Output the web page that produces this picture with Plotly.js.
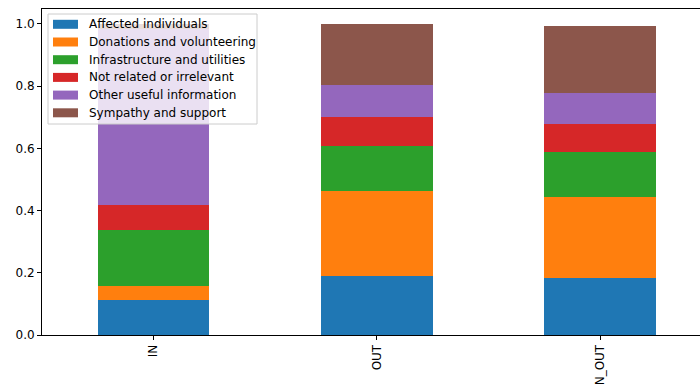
<!DOCTYPE html>
<html>
<head>
<meta charset="utf-8">
<script src="https://cdn.plot.ly/plotly-3.0.1.min.js"></script>
<style>html,body{margin:0;padding:0;background:#fff;}#chart{width:700px;height:385px;}</style>
</head>
<body>
<div id="chart"></div>
<script>
const categories = ["IN", "OUT", "N_OUT"];
const seriesNames = ["Affected individuals", "Donations and volunteering", "Infrastructure and utilities", "Not related or irrelevant", "Other useful information", "Sympathy and support"];
const affected = [0.113, 0.190, 0.183];
const donations = [0.045, 0.273, 0.261];
const infrastructure = [0.180, 0.146, 0.144];
const notRelated = [0.080, 0.092, 0.090];
const otherUseful = [0.565, 0.103, 0.100];
const sympathy = [0.017, 0.196, 0.216];
const colors = ["#1f77b4", "#ff7f0e", "#2ca02c", "#d62728", "#9467bd", "#8c564b"];
const seriesValues = [affected, donations, infrastructure, notRelated, otherUseful, sympathy];
const yTicks = [0, 0.2, 0.4, 0.6, 0.8, 1.0];

const FONT = "DejaVu Sans, sans-serif";
const W = 700, H = 385, ML = 42, MR = 0, MT = 9, MB = 50;
const PW = W - ML - MR, PH = H - MT - MB;
const px = p => (p - ML) / PW;
const py = p => (H - MB - p) / PH;

const traces = seriesValues.map((vals, i) => ({
  type: "bar",
  name: seriesNames[i],
  x: categories.map((c, k) => k),
  y: vals,
  width: 0.5,
  marker: {color: colors[i], line: {width: 0}},
  hoverinfo: "none"
}));

// matplotlib-style legend drawn as shapes + text
const shapes = [{
  type: "rect", xref: "paper", yref: "paper",
  x0: px(48), x1: px(257), y0: py(124), y1: py(14),
  fillcolor: "rgba(255,255,255,0.8)", line: {color: "#cccccc", width: 1}
}];
const annotations = [];
seriesNames.forEach((name, i) => {
  const cy = 24.3 + i * 17.7;
  shapes.push({
    type: "rect", xref: "paper", yref: "paper",
    x0: px(53), x1: px(78), y0: py(cy + 4.5), y1: py(cy - 4.5),
    fillcolor: colors[i], line: {width: 0}
  });
  annotations.push({
    xref: "paper", yref: "paper", x: px(87), y: py(cy),
    xanchor: "left", yanchor: "middle", showarrow: false,
    text: name, font: {family: FONT, size: 12, color: "#000"}
  });
});

const layout = {
  width: W, height: H,
  margin: {l: ML, r: MR, t: MT, b: MB, pad: 0},
  barmode: "stack",
  paper_bgcolor: "#fff", plot_bgcolor: "#fff",
  font: {family: FONT, size: 12, color: "#000"},
  showlegend: false,
  shapes: shapes,
  annotations: annotations,
  xaxis: {
    range: [-0.5, 2.448],
    tickmode: "array", tickvals: categories.map((c, k) => k), ticktext: categories,
    tickangle: -90,
    showline: true, linecolor: "#000", linewidth: 1, mirror: true,
    ticks: "outside", ticklen: 4, tickcolor: "#000", tickwidth: 1,
    showgrid: false, zeroline: false,
    tickfont: {family: FONT, size: 12, color: "#000"}
  },
  yaxis: {
    range: [0, 1.048],
    tickmode: "array", tickvals: yTicks, ticktext: yTicks.map(v => v.toFixed(1)),
    showline: true, linecolor: "#000", linewidth: 1,
    ticks: "outside", ticklen: 4, tickcolor: "#000", tickwidth: 1,
    showgrid: false, zeroline: false,
    tickfont: {family: FONT, size: 12, color: "#000"}
  }
};

Plotly.newPlot("chart", traces, layout, {displayModeBar: false, staticPlot: true});
</script>
</body>
</html>
